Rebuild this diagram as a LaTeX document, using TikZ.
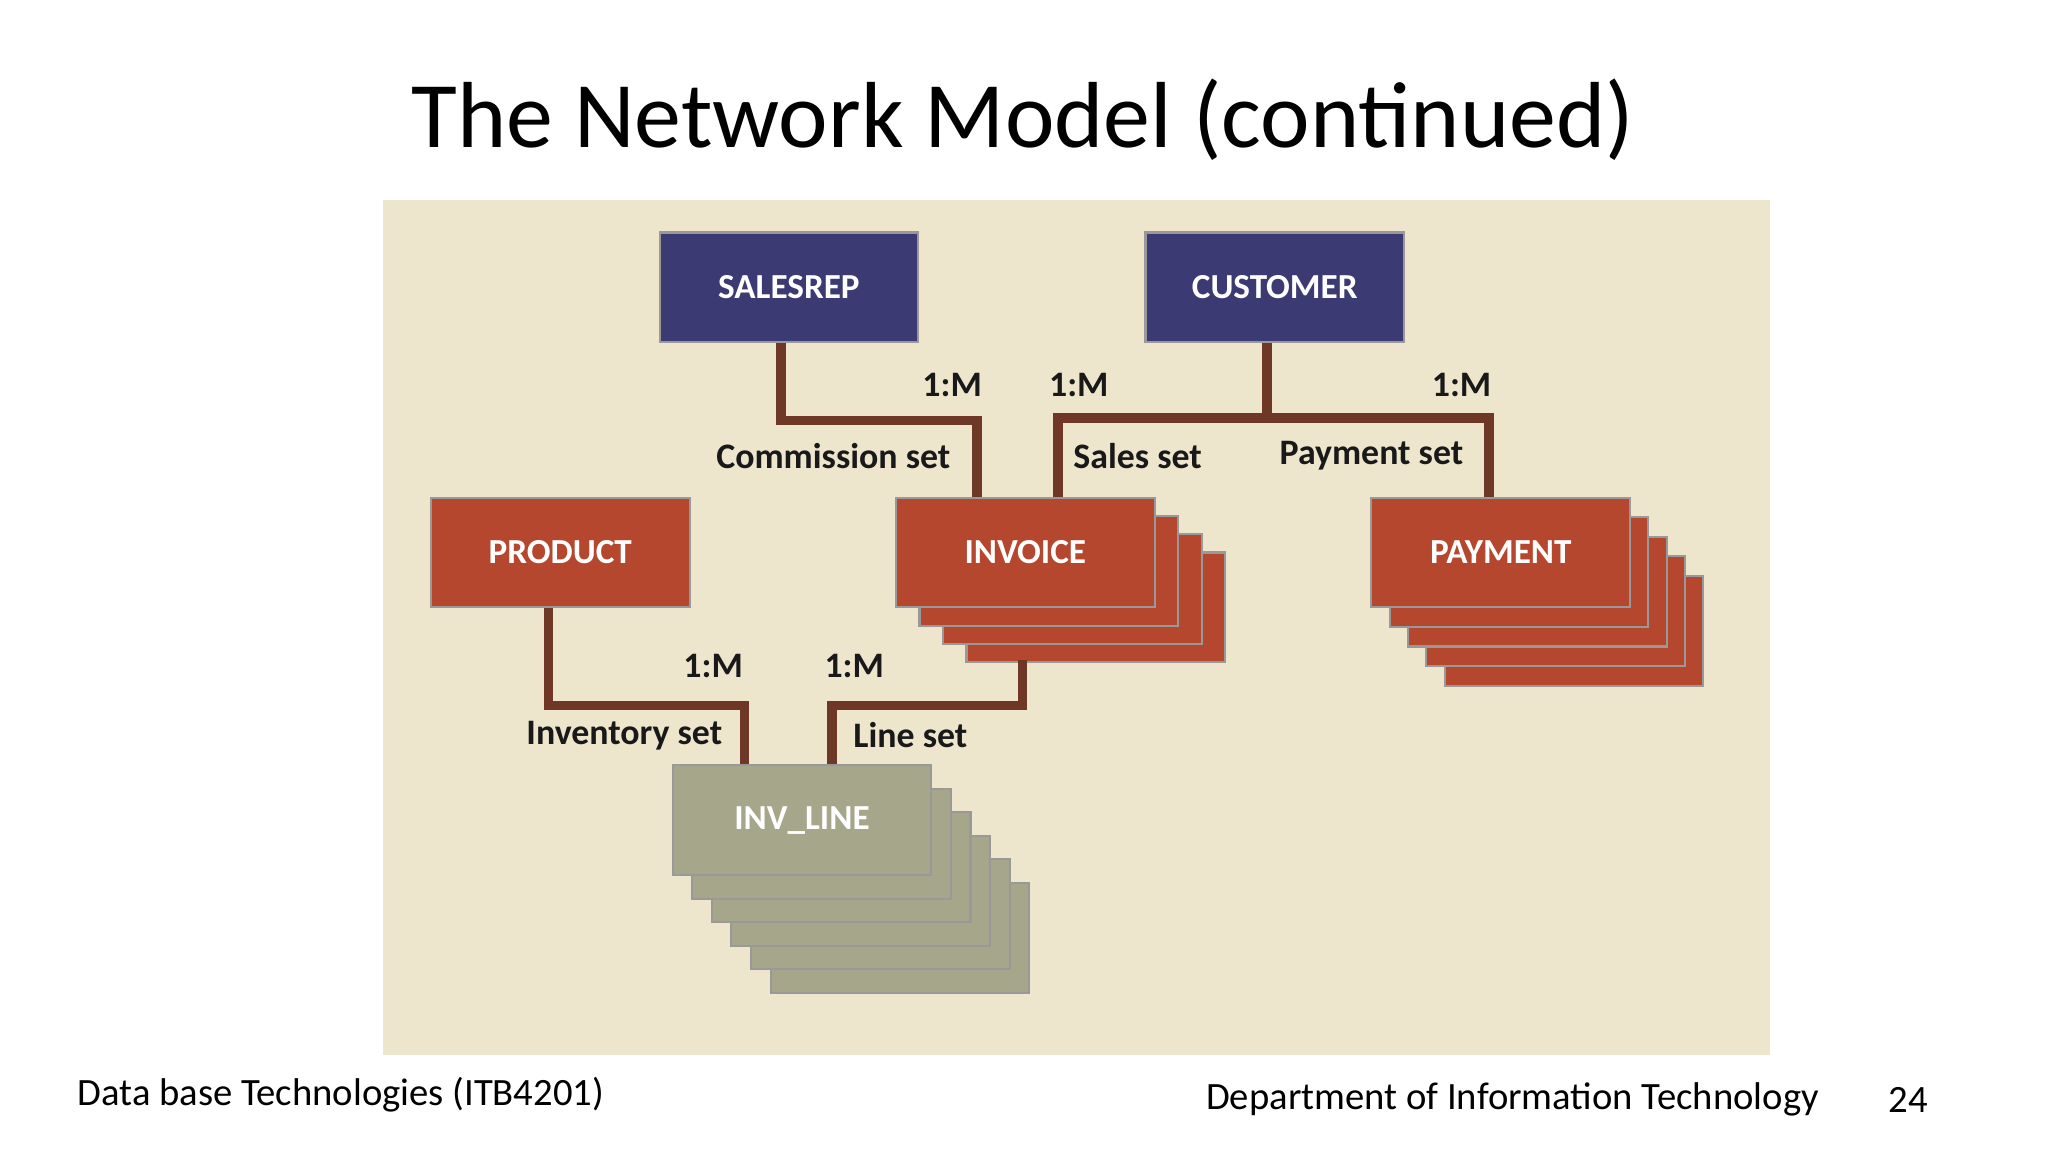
\documentclass[tikz,border=0pt]{standalone}
\usepackage{fontspec}
\setmainfont{Carlito}
\definecolor{navyc}{RGB}{59,58,115}
\definecolor{redc}{RGB}{181,71,47}
\definecolor{grayc}{RGB}{165,166,138}
\definecolor{connc}{RGB}{110,55,38}
\definecolor{bgc}{RGB}{237,230,205}
\begin{document}
\begin{tikzpicture}[x=0.013061cm,y=-0.013061cm,
  box/.style={draw=black!40,line width=0.6pt,minimum width=198*0.013061cm,minimum height=84*0.013061cm,inner sep=0,text=white,font=\fontsize{10}{12}\selectfont\bfseries},
  navy/.style={box,fill=navyc},
  redb/.style={box,fill=redc},
  grayb/.style={box,fill=grayc},
  conn/.style={draw=connc,line width=2.6pt},
  lab/.style={font=\fontsize{10.2}{12}\selectfont\bfseries,text=black!90}]
\useasboundingbox (0,0) rectangle (1568,882);
\fill[white] (0,0) rectangle (1568,882);
\node[font=\fontsize{26.7}{32}\selectfont] (title) at (783,92) {The Network Model (continued)};
\fill[bgc] (293,153) rectangle (1355,808);
\foreach \i in {3,2,1}{\node[redb] at (785+18*\i,423+14*\i) {};}
\foreach \i in {4,3,2,1}{\node[redb] at (1149+14*\i,423+15*\i) {};}
\foreach \i in {5,4,3,2,1}{\node[grayb] at (614+15*\i,628+18*\i) {};}
\node[navy] (salesrep) at (604,220) {SALESREP};
\node[navy] (customer) at (976,220) {CUSTOMER};
\node[redb] (product) at (429,423) {PRODUCT};
\node[redb] (invoice) at (785,423) {INVOICE};
\node[redb] (payment) at (1149,423) {PAYMENT};
\node[grayb] (invline) at (614,628) {INV\_LINE};
\coordinate (invbot) at (783,505);
\draw[conn] (salesrep.south -| 598,0) |- (748,322) -- (invoice.north -| 748,0);
\draw[conn] (customer.south -| 970,0) -- (970,320);
\draw[conn] (invoice.north -| 810,0) |- (1140,320) -- (payment.north -| 1140,0);
\draw[conn] (product.south -| 420,0) |- (570,540) -- (invline.north -| 570,0);
\draw[conn] (invbot) |- (637,540) -- (invline.north -| 637,0);
\node[lab] (l1) at (729,295) {1:M};
\node[lab] (l2) at (826,295) {1:M};
\node[lab] (l3) at (1119,295) {1:M};
\node[lab] (l4) at (546,510) {1:M};
\node[lab] (l5) at (654,510) {1:M};
\node[lab] (s1) at (638,349) {Commission set};
\node[lab] (s2) at (871,349) {Sales set};
\node[lab] (s3) at (1050,349) {Payment set};
\node[lab] (s4) at (478,563) {Inventory set};
\node[lab] (s5) at (697,563) {Line set};
\node[font=\fontsize{11}{13}\selectfont,anchor=west] (f1) at (50,838) {Data base Technologies (ITB4201)};
\node[font=\fontsize{11}{13}\selectfont,anchor=west] (f2) at (914,842) {Department of Information Technology};
\node[font=\fontsize{11}{13}\selectfont] (f3) at (1461,842) {24};
\end{tikzpicture}
\end{document}
